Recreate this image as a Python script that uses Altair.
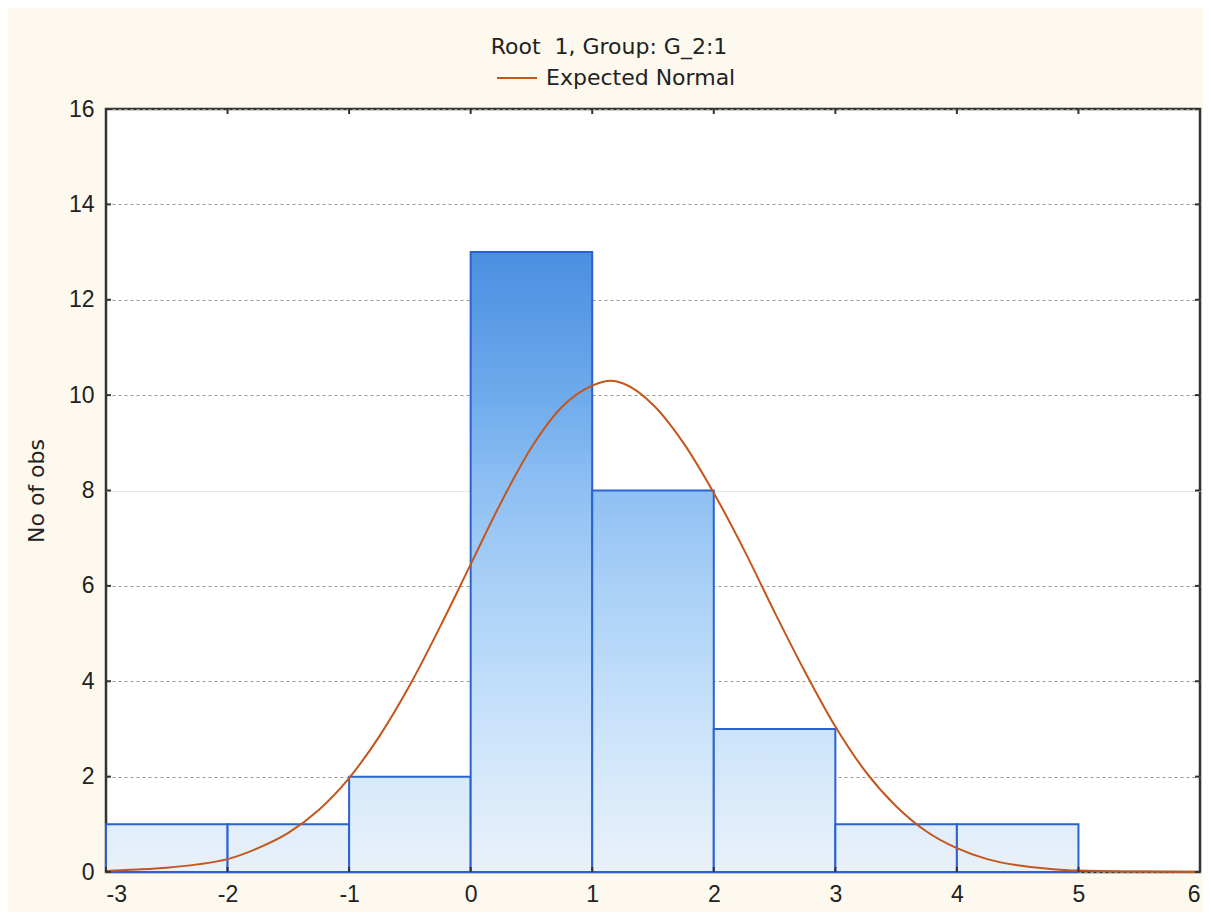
import altair as alt
import pandas as pd

# ---- data ----
bin_start = [-3, -2, -1, 0, 1, 2, 3, 4]
bin_end = [-2, -1, 0, 1, 2, 3, 4, 5]
counts = [1, 1, 2, 13, 8, 3, 1, 1]

curve_x = [-3, -2.75, -2.5, -2.25, -2, -1.75, -1.5, -1.25, -1, -0.75, -0.5, -0.25,
           0, 0.25, 0.5, 0.75, 1, 1.15, 1.25, 1.5, 1.75, 2, 2.25, 2.5, 2.75, 3,
           3.25, 3.5, 3.75, 4, 4.25, 4.5, 4.75, 5, 5.5, 6]
curve_y = [0.02, 0.05, 0.09, 0.16, 0.27, 0.5, 0.82, 1.3, 1.97, 2.85, 3.92, 5.15,
           6.45, 7.75, 8.9, 9.75, 10.2, 10.3, 10.25, 9.8, 9.0, 7.95, 6.75, 5.45, 4.2, 3.05,
           2.1, 1.38, 0.85, 0.5, 0.27, 0.14, 0.07, 0.03, 0.01, 0.0]

x_ticks = [-3, -2, -1, 0, 1, 2, 3, 4, 5, 6]
y_ticks = [0, 2, 4, 6, 8, 10, 12, 14, 16]

title_text = "Root\u00a0 1, Group: G_2:1"
series_name = "Expected Normal"
y_title = "No of obs"

# ---- styling ----
W, H = 1094, 763
FONT = "Liberation Sans"
FONT2 = "DejaVu Sans"
TXT = "#222222"
CURVE = "#c4561c"
EDGE = "#2a62cf"
FRAME = "#333333"

grad_levels = [0, 2, 4, 6, 8, 10, 13]
grad_colors = ["#e9f1f9", "#d6e9fb", "#c0ddf9", "#a9d0f7", "#8fc0f3", "#6eaaec", "#4a8fe0"]


def hex2rgb(h):
    h = h.lstrip("#")
    return [int(h[i:i + 2], 16) for i in (0, 2, 4)]


def rgb2hex(c):
    return "#" + "".join(f"{int(round(v)):02x}" for v in c)


def color_at(v):
    for i in range(len(grad_levels) - 1):
        a, b = grad_levels[i], grad_levels[i + 1]
        if a <= v <= b:
            t = (v - a) / (b - a)
            ca, cb = hex2rgb(grad_colors[i]), hex2rgb(grad_colors[i + 1])
            return rgb2hex([ca[k] + (cb[k] - ca[k]) * t for k in range(3)])
    return grad_colors[-1]


def gradient_for(c):
    stops = [(0.0, color_at(c))]
    for lv, col in zip(grad_levels, grad_colors):
        if lv < c:
            stops.append((1 - lv / c, col))
    stops.sort(key=lambda s: s[0])
    return alt.Gradient(
        gradient="linear",
        stops=[alt.GradientStop(offset=o, color=col) for o, col in stops],
        x1=0, x2=0, y1=0, y2=1,
    )


xscale = alt.Scale(domain=[-3, 6], nice=False, zero=False)
yscale = alt.Scale(domain=[0, 16], nice=False)

hist = pd.DataFrame({"start": bin_start, "end": bin_end, "count": counts})
curve = pd.DataFrame({"x": curve_x, "y": curve_y, "series": [series_name] * len(curve_x)})
xt = pd.DataFrame({"t": x_ticks})
yt = pd.DataFrame({"t": y_ticks})

x_axis = alt.Axis(values=x_ticks, grid=False, ticks=False, domain=False, labelFont=FONT,
                  labelFontSize=23, labelColor=TXT, labelPadding=11, title=None,
                  labelExpr="datum.value + ''")
grid_color = {"condition": {"test": "datum.value === 8", "value": "#dde8e8"}, "value": "#9a9a9a"}
grid_dash = {"condition": {"test": "datum.value === 8", "value": []}, "value": [3, 3]}
y_axis = alt.Axis(values=y_ticks, grid=True, gridColor=grid_color, gridDash=grid_dash,
                  gridWidth=1, ticks=False, domain=False, labelFont=FONT, labelFontSize=23,
                  labelColor=TXT, labelPadding=12, title=y_title, titleFont=FONT2,
                  titleFontSize=22, titleFontWeight="normal", titleColor=TXT, titlePadding=20,
                  labelExpr="datum.value + ''")

# grid layer (axes)
base_axes = alt.Chart(yt).mark_rule(opacity=0).encode(
    x=alt.X("t:Q", scale=xscale, axis=x_axis),
    y=alt.Y("t:Q", scale=yscale, axis=y_axis),
)

bar_layers = []
for i, c in enumerate(counts):
    sub = hist.iloc[[i]]
    bar_layers.append(
        alt.Chart(sub).mark_bar(color=gradient_for(c), stroke=EDGE, strokeWidth=2).encode(
            x=alt.X("start:Q", scale=xscale),
            x2="end:Q",
            y=alt.Y("count:Q", scale=yscale),
            y2=alt.datum(0),
        )
    )

line = alt.Chart(curve).mark_line(strokeWidth=2, interpolate="monotone").encode(
    x=alt.X("x:Q", scale=xscale),
    y=alt.Y("y:Q", scale=yscale),
    color=alt.Color("series:N", scale=alt.Scale(domain=[series_name], range=[CURVE]),
                    legend=alt.Legend(title=None, orient="none", legendX=390, legendY=-52,
                                      symbolType="stroke", symbolSize=1600,
                                      symbolStrokeWidth=2, labelFont=FONT2,
                                      labelFontSize=22, labelColor=TXT, labelOffset=8,
                                      labelLimit=500)),
)

tk = dict(color=FRAME, strokeWidth=2)
ticks_bottom = alt.Chart(xt).mark_rule(**tk).encode(
    x=alt.X("t:Q", scale=xscale), y=alt.value(H), y2=alt.value(H - 5))
ticks_top = alt.Chart(xt).mark_rule(**tk).encode(
    x=alt.X("t:Q", scale=xscale), y=alt.value(0), y2=alt.value(5))
ticks_left = alt.Chart(yt).mark_rule(**tk).encode(
    y=alt.Y("t:Q", scale=yscale), x=alt.value(0), x2=alt.value(5))
ticks_right = alt.Chart(yt).mark_rule(**tk).encode(
    y=alt.Y("t:Q", scale=yscale), x=alt.value(W), x2=alt.value(W - 5))

chart = alt.layer(base_axes, *bar_layers, line, ticks_bottom, ticks_top, ticks_left, ticks_right).properties(
    width=W, height=H,
    title=alt.TitleParams(title_text, font=FONT2, fontSize=22, fontWeight="normal", color=TXT,
                          anchor="middle", dx=-44, offset=0, dy=2),
    background="#fdf9ee",
    autosize=alt.AutoSizeParams(type="none"),
    padding={"left": 98, "top": 101, "right": 3, "bottom": 40},
).configure_view(fill="white", stroke=FRAME, strokeWidth=2.5)

chart.save("out.html", embed_options={"renderer": "svg", "actions": False})
